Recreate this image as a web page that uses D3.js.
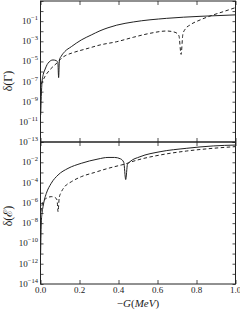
<!DOCTYPE html>
<html>
<head>
<meta charset="utf-8">
<script src="https://cdn.jsdelivr.net/npm/d3@7"></script>
<style>
  body { margin: 0; background: #fff; }
  svg { display: block; }
  text { font-family: "Liberation Serif", "DejaVu Serif", serif; fill: #222; }
</style>
</head>
<body>
<svg id="chart" width="240" height="311"></svg>
<script>
// x ticks shared by both panels
const xTicks = [0, 0.2, 0.4, 0.6, 0.8, 1.0];

// top panel: delta(Gamma)
const gammaSolidX = [0.001, 0.004, 0.008, 0.014, 0.022, 0.038, 0.064, 0.081, 0.089, 0.093, 0.097, 0.106, 0.124, 0.158, 0.209, 0.26, 0.305, 0.346, 0.391, 0.476, 0.647, 0.818, 1.0];
const gammaSolidY = [5.0e-11, 3.2e-9, 1.0e-7, 5.0e-7, 1.4e-6, 6.5e-6, 1.4e-5, 1.2e-5, 7.9e-6, 2.5e-7, 1.4e-5, 3.2e-5, 9.3e-5, 2.9e-4, 1.35e-3, 4.2e-3, 1.1e-2, 2.2e-2, 4.0e-2, 8.3e-2, 0.19, 0.30, 0.42];
const gammaDashX = [0.003, 0.022, 0.047, 0.073, 0.09, 0.107, 0.13, 0.158, 0.244, 0.305, 0.391, 0.476, 0.562, 0.647, 0.69, 0.71, 0.721, 0.73, 0.742, 0.767, 0.818, 0.869, 0.937, 1.0];
const gammaDashY = [5.0e-8, 3.0e-7, 1.4e-6, 4.4e-6, 8.9e-6, 2.0e-5, 4.0e-5, 6.5e-5, 2.0e-4, 4.3e-4, 9.1e-4, 2.5e-3, 6.2e-3, 1.05e-2, 7.8e-3, 3.5e-3, 5.0e-5, 5.0e-3, 1.6e-2, 4.2e-2, 0.13, 0.32, 0.87, 2.2];
const gammaExps = [-13, -12, -11, -10, -9, -8, -7, -6, -5, -4, -3, -2, -1, 0, 1];
const gammaLabels = [-13, -11, -9, -7, -5, -3, -1];

// bottom panel: delta(E)
const energySolidX = [0.0005, 0.002, 0.004, 0.008, 0.013, 0.02, 0.03, 0.055, 0.09, 0.141, 0.209, 0.295, 0.346, 0.38, 0.41, 0.427, 0.437, 0.446, 0.459, 0.51, 0.613, 0.75, 0.886, 1.0];
const energySolidY = [7.9e-12, 3.2e-10, 1.0e-8, 1.0e-7, 4.2e-7, 2.0e-6, 8.7e-6, 8.5e-5, 5.6e-4, 2.5e-3, 7.9e-3, 2.1e-2, 3.0e-2, 3.0e-2, 2.2e-2, 1.0e-2, 2.0e-4, 6.3e-3, 1.15e-2, 3.5e-2, 0.11, 0.24, 0.41, 0.50];
const energyDashX = [0.002, 0.013, 0.03, 0.055, 0.073, 0.085, 0.09, 0.096, 0.105, 0.124, 0.158, 0.209, 0.278, 0.346, 0.414, 0.438, 0.459, 0.51, 0.613, 0.75, 0.886, 1.0];
const energyDashY = [1.35e-7, 1.3e-6, 2.8e-6, 4.1e-6, 3.5e-6, 1.9e-6, 1.35e-7, 3.2e-6, 1.0e-5, 3.9e-5, 1.2e-4, 3.8e-4, 1.0e-3, 2.5e-3, 5.4e-3, 7.1e-3, 1.0e-2, 1.95e-2, 5.2e-2, 0.13, 0.24, 0.35];
const energyExps = [-14, -13, -12, -11, -10, -9, -8, -7, -6, -5, -4, -3, -2, -1, 0];
const energyLabels = [-14, -12, -10, -8, -6, -4, -2];

const svg = d3.select("#chart");
const left = 40.5, right = 235.5;
const ink = "#222";

const x = d3.scaleLinear().domain([0, 1]).range([left, right]);

const zip = (xs, ys) => xs.map((v, i) => [v, ys[i]]);

function panel(cfg) {
  const y = d3.scaleLog().domain(cfg.domain).range([cfg.bottom, cfg.top]);
  const g = svg.append("g");
  const clipId = "clip" + cfg.name;

  svg.append("clipPath").attr("id", clipId)
    .append("rect")
    .attr("x", left).attr("y", cfg.top)
    .attr("width", right - left).attr("height", cfg.bottom - cfg.top);

  const line = d3.line()
    .x(d => x(d[0]))
    .y(d => y(d[1]))
    .curve(d3.curveMonotoneX);

  const lines = g.append("g").attr("clip-path", `url(#${clipId})`);
  lines.append("path")
    .datum(zip(cfg.dashX, cfg.dashY))
    .attr("d", line)
    .attr("fill", "none")
    .attr("stroke", ink)
    .attr("stroke-width", 1)
    .attr("stroke-dasharray", "3.5,2.5");
  lines.append("path")
    .datum(zip(cfg.solidX, cfg.solidY))
    .attr("d", line)
    .attr("fill", "none")
    .attr("stroke", ink)
    .attr("stroke-width", 1);

  const decades = cfg.exps.map(e => Math.pow(10, e));

  // ticks, all pointing inward
  g.append("g").attr("transform", `translate(0,${cfg.bottom})`)
    .call(d3.axisBottom(x).tickValues(xTicks).tickSize(-4).tickFormat(""));
  g.append("g").attr("transform", `translate(0,${cfg.top})`)
    .call(d3.axisTop(x).tickValues(xTicks).tickSize(-4).tickFormat(""));
  g.append("g").attr("transform", `translate(${left},0)`)
    .call(d3.axisLeft(y).tickValues(decades).tickSize(-3).tickFormat(""));
  g.append("g").attr("transform", `translate(${right},0)`)
    .call(d3.axisRight(y).tickValues(decades).tickSize(-3).tickFormat(""));
  g.selectAll(".domain").remove();
  g.selectAll(".tick line").attr("stroke", ink).attr("stroke-width", 0.8);

  g.append("rect")
    .attr("x", left).attr("y", cfg.top)
    .attr("width", right - left).attr("height", cfg.bottom - cfg.top)
    .attr("fill", "none").attr("stroke", ink).attr("stroke-width", 1);

  const lab = g.append("g").selectAll("text")
    .data(cfg.labels)
    .join("text")
    .attr("x", left - 2.5)
    .attr("y", e => y(Math.pow(10, e)) + 3)
    .attr("text-anchor", "end")
    .attr("font-size", 9);
  lab.append("tspan").text("10");
  lab.append("tspan").attr("dy", -4).attr("font-size", 6.5)
    .text(e => "\u2212" + Math.abs(e));

  svg.append("text")
    .attr("transform", `translate(12,${cfg.labelY}) rotate(-90)`)
    .attr("text-anchor", "middle")
    .attr("font-size", 12)
    .text(cfg.ylabel);

  return y;
}

panel({
  name: "gamma", top: 1, bottom: 142, domain: [1e-13, 1e1],
  solidX: gammaSolidX, solidY: gammaSolidY, dashX: gammaDashX, dashY: gammaDashY,
  exps: gammaExps, labels: gammaLabels, ylabel: "\u03b4(\u0393)", labelY: 81
});

panel({
  name: "energy", top: 142, bottom: 284, domain: [1e-14, 1e0],
  solidX: energySolidX, solidY: energySolidY, dashX: energyDashX, dashY: energyDashY,
  exps: energyExps, labels: energyLabels, ylabel: "\u03b4(\u2130)", labelY: 216
});

// x tick labels under the bottom panel
svg.append("g").selectAll("text")
  .data(xTicks)
  .join("text")
  .attr("x", d => x(d))
  .attr("y", 293)
  .attr("text-anchor", "middle")
  .attr("font-size", 9)
  .text(d => d.toFixed(1));

const xl = svg.append("text")
  .attr("x", x(0.5))
  .attr("y", 307)
  .attr("text-anchor", "middle")
  .attr("font-size", 11);
xl.append("tspan").text("\u2212");
xl.append("tspan").attr("font-style", "italic").text("G");
xl.append("tspan").text("(");
xl.append("tspan").attr("font-style", "italic").text("MeV");
xl.append("tspan").text(")");
</script>
</body>
</html>
